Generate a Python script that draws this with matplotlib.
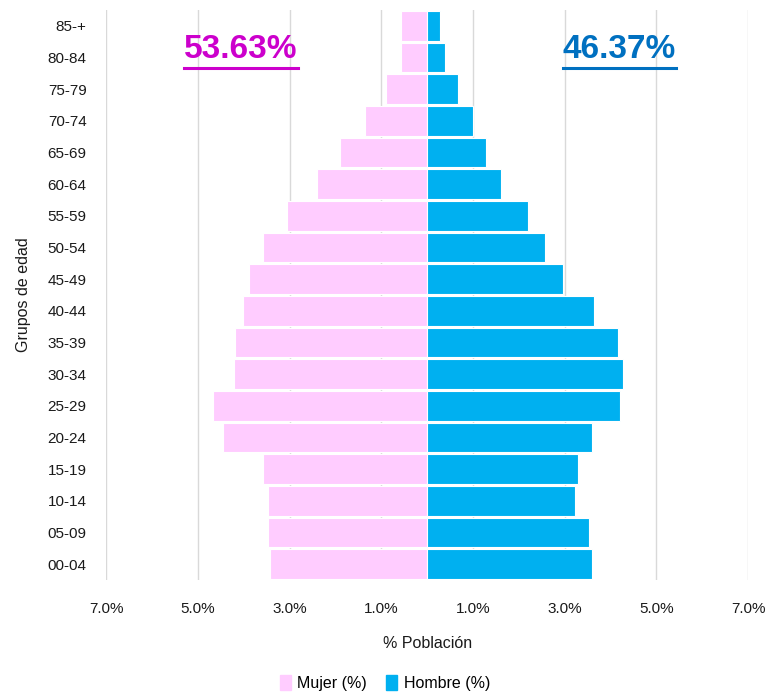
import matplotlib.pyplot as plt
import numpy as np
from matplotlib.lines import Line2D
from matplotlib.patches import Patch

grupos = ["00-04", "05-09", "10-14", "15-19", "20-24", "25-29", "30-34", "35-39",
          "40-44", "45-49", "50-54", "55-59", "60-64", "65-69", "70-74", "75-79",
          "80-84", "85-+"]
mujer = [3.42, 3.46, 3.46, 3.57, 4.44, 4.66, 4.21, 4.18, 4.02, 3.88, 3.57,
         3.05, 2.41, 1.89, 1.36, 0.90, 0.56, 0.56]
hombre = [3.60, 3.52, 3.22, 3.30, 3.60, 4.20, 4.28, 4.16, 3.64, 2.96, 2.58,
          2.21, 1.60, 1.28, 0.99, 0.67, 0.40, 0.29]
ticks = [-7, -5, -3, -1, 1, 3, 5, 7]
total_mujer = "53.63%"
total_hombre = "46.37%"

plt.rcParams['font.family'] = ['Liberation Sans', 'DejaVu Sans']

fig = plt.figure(figsize=(7.7, 6.93), dpi=100)
ax = fig.add_axes([0.1377, 0.163, 0.834, 0.8225])

y = np.arange(len(grupos))
ax.barh(y, -np.array(mujer), height=0.93, color='#FFCCFF', edgecolor='white', linewidth=0.8, label='Mujer (%)', zorder=2)
ax.barh(y, hombre, height=0.93, color='#00B0F0', edgecolor='white', linewidth=0.8, label='Hombre (%)', zorder=2)

ax.set_xlim(-7, 7)
ax.set_ylim(-0.5, len(grupos) - 0.5)
ax.set_xticks(ticks)
ax.set_xticklabels(["%.1f%%" % abs(t) for t in ticks], fontsize=11, color='#1a1a1a')
ax.set_yticks(y)
ax.set_yticklabels(grupos, fontsize=11, color='#1a1a1a')
ax.tick_params(length=0)
ax.tick_params(axis='y', pad=14)
ax.tick_params(axis='x', pad=16)
ax.grid(axis='x', color='#d9d9d9', linewidth=1, zorder=0)
for s in ax.spines.values():
    s.set_visible(False)

ax.set_xlabel("% Población", fontsize=11.5, color='#1a1a1a', labelpad=14)
ax.set_ylabel("Grupos de edad", fontsize=11.5, color='#1a1a1a', labelpad=12)

# totales con subrayado
fig.canvas.draw()
r = fig.canvas.get_renderer()
for txt, xx, col in [(total_mujer, -4.06, '#CC00CC'), (total_hombre, 4.19, '#0070C0')]:
    t = ax.text(xx, 0.93, txt, transform=ax.get_xaxis_transform(), ha='center', va='center',
                fontsize=24, fontweight='bold', color=col)
    bb = t.get_window_extent(renderer=r).transformed(fig.transFigure.inverted())
    fig.add_artist(Line2D([bb.x0, bb.x1], [bb.y0 - 0.004, bb.y0 - 0.004], color=col, linewidth=2.2))

handles = [Patch(color='#FFCCFF', label='Mujer (%)'), Patch(color='#00B0F0', label='Hombre (%)')]
fig.legend(handles=handles, loc='lower center', bbox_to_anchor=(0.5, -0.018), ncol=2, frameon=False,
           fontsize=11.5, handlelength=0.7, handleheight=1.0, columnspacing=1.2, handletextpad=0.4)

fig.savefig("out.png", dpi=100)
